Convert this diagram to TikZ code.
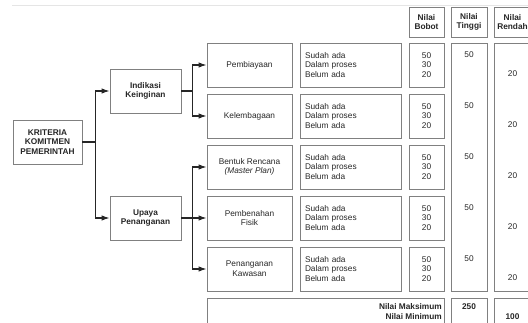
\documentclass[tikz,border=0pt]{standalone}
\usepackage{fontspec}
\setmainfont{Liberation Sans}
\usetikzlibrary{arrows.meta}

\begin{document}
\begin{tikzpicture}[x=1pt,y=-1pt,
    every node/.style={font=\fontsize{8.3}{9.7}\selectfont,text=black!85,align=center,inner sep=0pt},
    box/.style={draw=black!50,line width=0.8pt,minimum height=44},
    bold/.style={font=\fontsize{8.3}{9.7}\selectfont\bfseries},
    conn/.style={draw=black!85,line width=1.2pt,-{Latex[length=8pt,width=5.5pt]}}]
  \useasboundingbox (0,0) rectangle (528,323);
  \clip (0,0) rectangle (528,323);
  \draw[black!10] (12,5.5) -- (528,5.5);

  % tree
  \node[box,bold,minimum width=69] (kriteria) at (47.5,142) {KRITERIA\\KOMITMEN\\PEMERINTAH};
  \node[box,bold,minimum width=71] (indikasi) at (145.5,91) {Indikasi\\Keinginan};
  \node[box,bold,minimum width=71] (upaya) at (145.5,218) {Upaya\\Penanganan};

  % header
  \node[box,bold,minimum width=35,minimum height=30] (hbobot) at (426.5,22) {Nilai\\Bobot};
  \node[box,bold,minimum width=36,minimum height=30] (htinggi) at (469,22) {Nilai\\Tinggi};
  \node[box,bold,minimum width=37,minimum height=30] (hrendah) at (512.5,22) {Nilai\\Rendah};

  % kriteria rows
  \foreach \y/\name [count=\i] in {65/Pembiayaan,116/Kelembagaan,
      167/{Bentuk Rencana\\\textit{(Master Plan)}},218/{Pembenahan\\Fisik},269/{Penanganan\\Kawasan}} {
    \node[box,minimum width=85] (krit-\i) at (249.5,\y) {\name};
    \node[box,minimum width=101,text width=91,align=left] (status-\i) at (350.5,\y) {Sudah ada\\Dalam proses\\Belum ada};
    \node[box,minimum width=35] (bobot-\i) at (426.5,\y) {50\\30\\20};
    \node (tinggi-\i) at (469,\y-10) {50};
    \node (rendah-\i) at (512.5,\y+9) {20};
  }
  \node[box,minimum width=36,minimum height=248] (tinggi) at (469,167) {};
  \node[box,minimum width=37,minimum height=248] (rendah) at (512.5,167) {};

  % total
  \node[box,minimum width=237,minimum height=32] (total) at (325.5,314) {};
  \node[box,minimum width=36,minimum height=32] (ttinggi) at (469,314) {};
  \node[box,minimum width=37,minimum height=32] (trendah) at (512.5,314) {};
  \node[bold,anchor=east,align=right] (maks) at (442,307) {Nilai Maksimum};
  \node[bold,anchor=east,align=right] (min) at (442,316.5) {Nilai Minimum};
  \node[bold] (vmaks) at (469,307) {250};
  \node[bold] (vmin) at (512.5,317) {100};

  % connectors
  \draw[conn] (kriteria.east) -- ++(13,0) |- (indikasi.west);
  \draw[conn] (kriteria.east) -- ++(13,0) |- (upaya.west);
  \draw[conn] (indikasi.east) -- ++(11,0) |- (krit-1.west);
  \draw[conn] (indikasi.east) -- ++(11,0) |- (krit-2.west);
  \draw[conn] (upaya.east) -- ++(11,0) |- (krit-3.west);
  \draw[conn] (upaya.east) -- (krit-4.west);
  \draw[conn] (upaya.east) -- ++(11,0) |- (krit-5.west);
\end{tikzpicture}
\end{document}
